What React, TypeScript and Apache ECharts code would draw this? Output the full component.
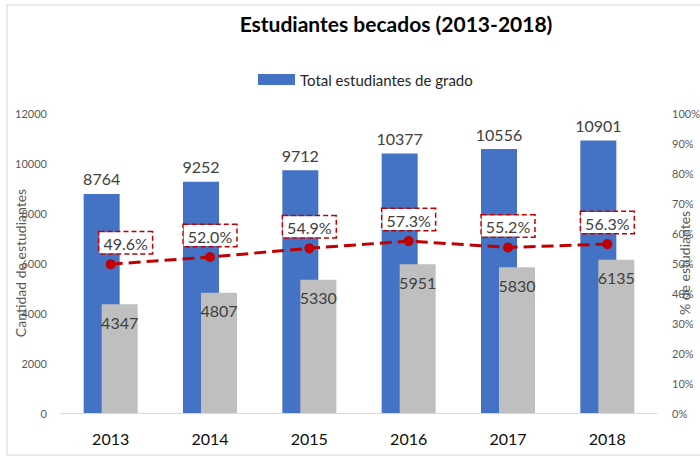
import React, { useEffect, useRef } from "react";
import * as echarts from "echarts";

const categories = ["2013", "2014", "2015", "2016", "2017", "2018"];
const totalStudents = [8764, 9252, 9712, 10377, 10556, 10901];
const scholarshipStudents = [4347, 4807, 5330, 5951, 5830, 6135];
const percentStudents = [49.6, 52.0, 54.9, 57.3, 55.2, 56.3];
const leftTicks = { min: 0, max: 12000, interval: 2000 };
const rightTicks = { min: 0, max: 100, interval: 10 };

const FONT = "Lato, 'Open Sans', 'Noto Sans', sans-serif";

export default function App() {
  const ref = useRef<HTMLDivElement>(null);
  useEffect(() => {
    document.body.style.margin = "0";
    if (!ref.current) return;
    const chart = echarts.init(ref.current, undefined, { renderer: "svg" });
    chart.setOption({
      animation: false,
      textStyle: { fontFamily: FONT },
      title: {
        text: "Estudiantes becados (2013-2018)",
        left: 391,
        textAlign: "center",
        top: 8,
        textStyle: { fontFamily: FONT, fontSize: 21, fontWeight: "bold", color: "#000" },
      },
      legend: {
        data: ["Total estudiantes de grado"],
        left: 253,
        top: 67,
        itemWidth: 37,
        itemHeight: 11,
        itemGap: 4,
        icon: "rect",
        textStyle: { fontFamily: FONT, fontSize: 15, color: "#262626" },
      },
      graphic: [
        {
          type: "rect",
          shape: { x: 7, y: 5, width: 700, height: 450 },
          style: { fill: "none", stroke: "#d9d9d9", lineWidth: 1.2 },
          silent: true,
        },
      ],
      grid: { left: 61, right: 43, top: 113, bottom: 44, outerBoundsMode: "none", containLabel: false },
      xAxis: {
        type: "category",
        data: categories,
        axisLine: { lineStyle: { color: "#d9d9d9", width: 1 } },
        axisTick: { show: false },
        axisLabel: { fontFamily: FONT, fontSize: 16, color: "#0d0d0d", margin: 17 },
      },
      yAxis: [
        {
          type: "value",
          min: leftTicks.min,
          max: leftTicks.max,
          interval: leftTicks.interval,
          splitLine: { show: false },
          axisLine: { show: false },
          axisTick: { show: false },
          axisLabel: {
            fontFamily: FONT,
            fontSize: 11,
            color: "#595959",
            margin: 14,
            formatter: (v: number) => String(v),
          },
          name: "Cantidad de estudiantes",
          nameLocation: "middle",
          nameRotate: 90,
          nameGap: 34,
          nameMoveOverlap: false,
          nameTextStyle: { fontFamily: FONT, fontSize: 14, color: "#595959" },
        },
        {
          type: "value",
          min: rightTicks.min,
          max: rightTicks.max,
          interval: rightTicks.interval,
          position: "right",
          splitLine: { show: false },
          axisLine: { show: false },
          axisTick: { show: false },
          axisLabel: {
            fontFamily: FONT,
            fontSize: 11,
            color: "#595959",
            margin: 15,
            formatter: "{value}%",
          },
          name: "% de estudiantes",
          nameLocation: "middle",
          nameRotate: 90,
          nameGap: 20,
          nameMoveOverlap: false,
          nameTextStyle: { fontFamily: FONT, fontSize: 14, color: "#595959" },
        },
      ],
      series: [
        {
          name: "Total estudiantes de grado",
          type: "bar",
          data: totalStudents,
          barWidth: 36,
          barGap: "-50%",
          itemStyle: { color: "#4472C4" },
          label: {
            show: true,
            position: "top",
            distance: 7,
            fontFamily: FONT,
            fontSize: 16,
            color: "#404040",
          },
        },
        {
          name: "Becados",
          type: "bar",
          data: scholarshipStudents,
          barWidth: 36,
          barGap: "-50%",
          itemStyle: { color: "#BFBFBF" },
          label: {
            show: true,
            position: "insideTop",
            distance: 10,
            fontFamily: FONT,
            fontSize: 16,
            color: "#404040",
          },
        },
        {
          name: "% de estudiantes",
          type: "line",
          yAxisIndex: 1,
          z: 5,
          data: percentStudents.map((v, i) =>
            i === 0 ? { value: v, label: { offset: [15, 0] } } : { value: v }
          ),
          symbol: "circle",
          symbolSize: 10,
          itemStyle: { color: "#C00000" },
          lineStyle: { color: "#C00000", width: 3, type: [12, 6] },
          label: {
            show: true,
            position: "top",
            distance: 6,
            formatter: (p: any) => Number(p.value).toFixed(1) + "%",
            fontFamily: FONT,
            fontSize: 16,
            color: "#404040",
            backgroundColor: "#fff",
            borderColor: "#C00000",
            borderWidth: 1.5,
            borderType: [5, 3],
            padding: [3, 4, 2, 4],
          },
        },
      ],
    });
    return () => chart.dispose();
  }, []);
  return <div ref={ref} style={{ width: 700, height: 457 }} />;
}
